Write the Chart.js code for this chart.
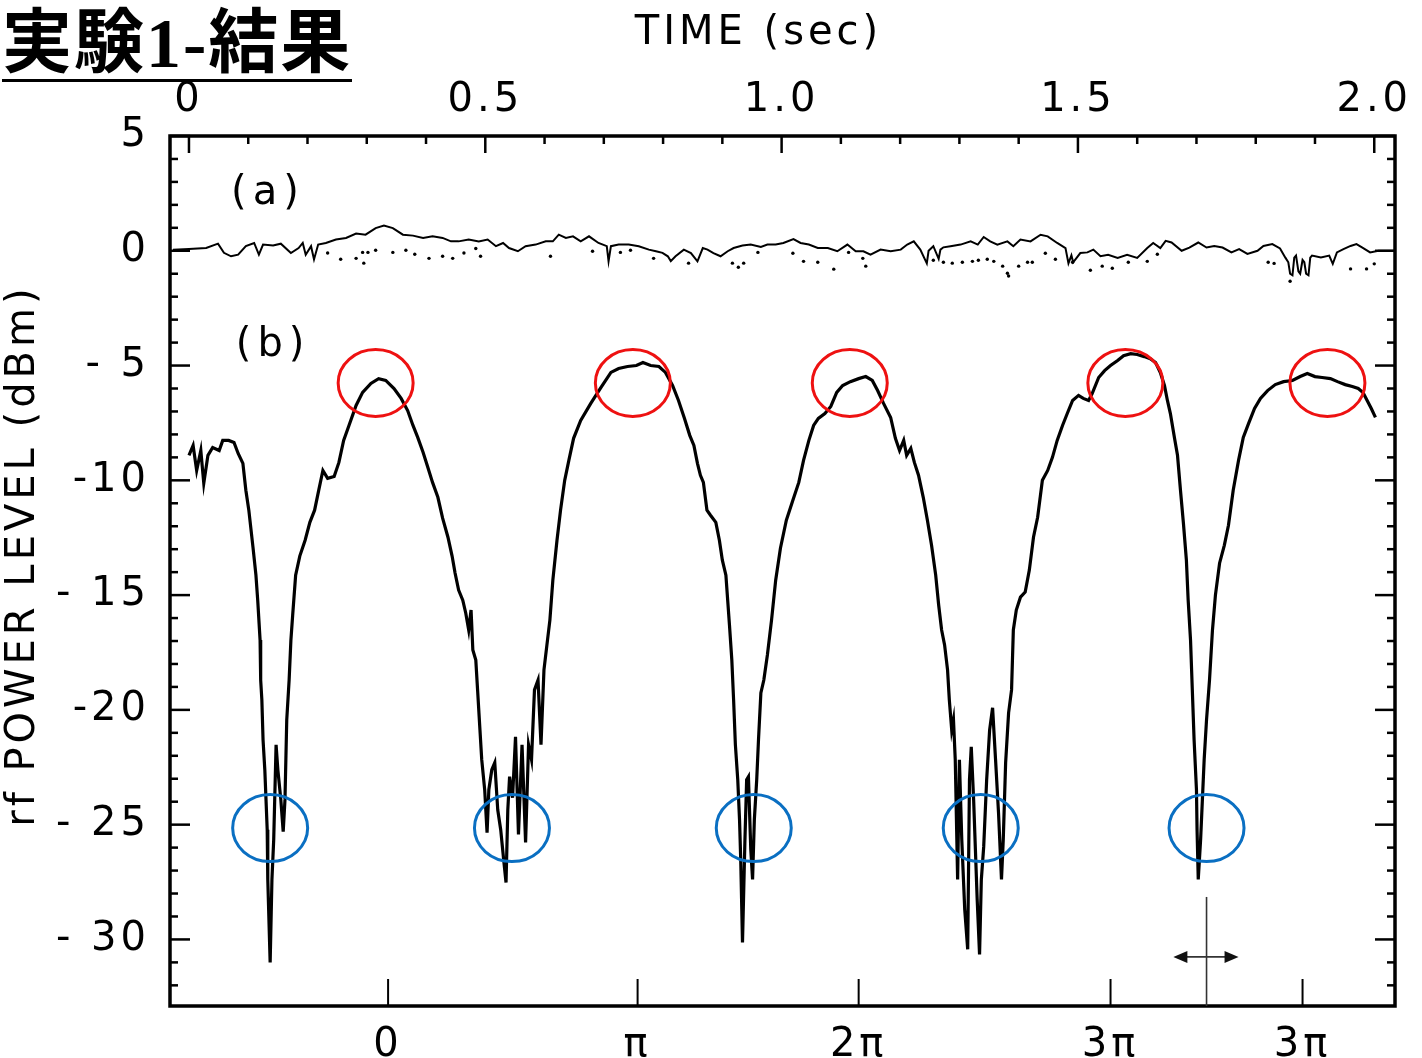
<!DOCTYPE html>
<html>
<head>
<meta charset="utf-8">
<script src="https://cdn.jsdelivr.net/npm/chart.js@4.4.1/dist/chart.umd.min.js"></script>
<style>
html,body{margin:0;padding:0;background:#fff;}
#wrap{position:relative;width:1422px;height:1058px;overflow:hidden;}
#title{position:absolute;left:2px;top:9px;font-family:"Liberation Serif","Noto Sans CJK JP",serif;font-weight:bold;font-size:70px;line-height:70px;letter-spacing:2px;border-bottom:3px solid #000;white-space:nowrap;color:#000;}
canvas{position:absolute;left:0;top:0;}
</style>
</head>
<body>
<div id="wrap">
<canvas id="c" width="1422" height="1058"></canvas>
<div id="title">実験1-結果</div>
</div>
<script>
// ---- curve (b): time (sec) / rf power (dBm)
const tB = [0.000,0.007,0.013,0.020,0.025,0.032,0.040,0.051,0.057,0.067,0.076,0.083,0.091,0.096,0.101,0.108,0.113,0.116,0.120,0.121,0.123,0.125,0.128,0.130,0.132,0.133,0.137,0.140,0.143,0.147,0.150,0.155,0.159,0.162,0.165,0.169,0.172,0.175,0.180,0.187,0.196,0.204,0.212,0.219,0.226,0.234,0.245,0.253,0.261,0.270,0.282,0.293,0.307,0.320,0.332,0.346,0.358,0.369,0.378,0.386,0.395,0.403,0.411,0.420,0.428,0.437,0.444,0.449,0.455,0.462,0.467,0.472,0.476,0.479,0.484,0.487,0.491,0.494,0.499,0.503,0.506,0.511,0.516,0.521,0.526,0.531,0.535,0.538,0.541,0.546,0.551,0.556,0.562,0.568,0.573,0.578,0.583,0.589,0.594,0.599,0.604,0.609,0.614,0.621,0.627,0.634,0.641,0.649,0.661,0.678,0.695,0.712,0.725,0.740,0.755,0.766,0.779,0.793,0.804,0.816,0.826,0.836,0.845,0.852,0.858,0.863,0.868,0.874,0.880,0.889,0.895,0.900,0.906,0.909,0.912,0.916,0.919,0.922,0.926,0.929,0.931,0.934,0.938,0.941,0.944,0.948,0.951,0.954,0.958,0.961,0.965,0.970,0.976,0.983,0.990,0.998,1.008,1.019,1.029,1.037,1.046,1.054,1.062,1.073,1.083,1.093,1.103,1.116,1.130,1.142,1.153,1.162,1.172,1.184,1.192,1.199,1.206,1.211,1.218,1.224,1.231,1.239,1.246,1.253,1.260,1.265,1.270,1.275,1.280,1.283,1.287,1.290,1.293,1.297,1.300,1.304,1.309,1.314,1.317,1.320,1.324,1.327,1.330,1.334,1.337,1.341,1.346,1.351,1.356,1.361,1.366,1.371,1.374,1.378,1.383,1.388,1.391,1.396,1.403,1.411,1.418,1.425,1.432,1.440,1.449,1.457,1.465,1.474,1.482,1.491,1.501,1.509,1.518,1.524,1.535,1.545,1.555,1.567,1.577,1.589,1.600,1.612,1.622,1.631,1.639,1.646,1.651,1.656,1.663,1.668,1.673,1.678,1.683,1.686,1.690,1.693,1.696,1.700,1.701,1.703,1.707,1.710,1.713,1.717,1.722,1.727,1.732,1.739,1.747,1.754,1.762,1.771,1.779,1.788,1.798,1.808,1.820,1.833,1.847,1.862,1.875,1.887,1.900,1.912,1.926,1.938,1.951,1.963,1.973,1.981,1.988,1.995,2.002];
const dbB = [-8.91,-8.48,-9.57,-8.70,-10.13,-8.91,-8.57,-8.70,-8.26,-8.26,-8.35,-8.83,-9.26,-10.43,-11.30,-12.91,-14.13,-15.22,-16.96,-18.70,-19.57,-21.30,-22.61,-23.91,-25.22,-27.39,-31.00,-27.39,-25.65,-21.52,-22.61,-23.91,-25.30,-23.91,-20.43,-18.70,-16.96,-15.87,-14.13,-13.30,-12.61,-11.83,-11.30,-10.43,-9.57,-9.91,-9.83,-9.22,-8.26,-7.61,-6.74,-6.17,-5.78,-5.57,-5.65,-6.00,-6.43,-6.96,-7.61,-8.13,-8.78,-9.43,-10.09,-10.74,-11.65,-12.48,-13.30,-14.04,-14.78,-15.22,-15.78,-16.52,-15.65,-17.39,-17.83,-19.13,-20.87,-22.17,-23.48,-25.35,-23.48,-22.61,-22.30,-24.35,-25.22,-26.52,-27.52,-24.35,-22.91,-23.83,-21.17,-25.43,-21.52,-25.78,-21.52,-22.17,-19.13,-18.70,-21.52,-18.26,-17.17,-16.09,-14.35,-12.61,-11.30,-10.00,-9.13,-8.17,-7.39,-6.65,-5.96,-5.30,-5.13,-5.04,-5.00,-4.87,-5.00,-5.04,-5.30,-5.87,-6.52,-7.30,-8.04,-8.48,-9.26,-9.78,-10.09,-11.30,-11.52,-11.83,-12.61,-13.48,-14.13,-15.22,-16.30,-17.83,-19.57,-21.52,-23.04,-24.78,-26.52,-30.13,-25.78,-23.04,-22.91,-26.09,-27.39,-24.78,-23.04,-21.30,-19.26,-18.70,-17.61,-16.09,-14.35,-12.96,-11.74,-10.87,-10.09,-9.13,-8.26,-7.61,-7.30,-7.09,-6.78,-6.17,-5.87,-5.70,-5.57,-5.48,-5.65,-6.09,-6.65,-7.26,-8.17,-8.70,-8.26,-8.91,-8.61,-9.22,-9.78,-10.74,-11.74,-12.83,-14.13,-15.43,-16.52,-17.17,-18.26,-19.57,-20.87,-20.43,-22.17,-27.39,-22.17,-25.65,-28.70,-30.43,-23.04,-21.61,-23.91,-26.09,-28.26,-30.65,-27.39,-25.96,-23.04,-20.87,-19.91,-22.17,-24.48,-27.39,-25.65,-22.30,-20.13,-19.13,-16.52,-15.65,-15.09,-14.87,-13.91,-12.48,-11.61,-10.00,-9.57,-9.00,-8.26,-7.61,-7.09,-6.52,-6.30,-6.43,-6.52,-6.22,-5.52,-5.22,-5.00,-4.78,-4.57,-4.48,-4.52,-4.61,-4.70,-4.87,-5.30,-5.87,-6.52,-7.09,-8.17,-8.91,-10.43,-11.87,-13.48,-15.22,-16.96,-19.13,-21.30,-23.48,-25.22,-27.39,-25.65,-23.91,-22.17,-20.43,-18.70,-16.52,-15.00,-13.61,-12.83,-11.96,-10.43,-9.13,-8.13,-7.52,-6.87,-6.43,-6.09,-5.83,-5.70,-5.65,-5.48,-5.35,-5.48,-5.52,-5.57,-5.70,-5.83,-5.91,-6.00,-6.17,-6.52,-6.87,-7.26];

// ---- curve (a), solid trace
const tA = [-0.027,0.000,0.029,0.049,0.059,0.071,0.083,0.096,0.110,0.118,0.125,0.142,0.155,0.172,0.185,0.192,0.197,0.206,0.211,0.218,0.231,0.248,0.265,0.282,0.298,0.315,0.329,0.344,0.361,0.378,0.395,0.411,0.428,0.442,0.455,0.472,0.489,0.504,0.518,0.530,0.540,0.555,0.568,0.585,0.602,0.614,0.624,0.636,0.648,0.661,0.675,0.691,0.705,0.708,0.712,0.725,0.742,0.759,0.776,0.788,0.799,0.808,0.813,0.821,0.835,0.847,0.858,0.867,0.875,0.885,0.897,0.909,0.919,0.934,0.948,0.965,0.976,0.990,1.003,1.020,1.032,1.046,1.061,1.078,1.094,1.111,1.125,1.138,1.150,1.167,1.184,1.201,1.212,1.223,1.234,1.245,1.248,1.256,1.265,1.268,1.273,1.285,1.302,1.319,1.331,1.341,1.352,1.364,1.381,1.391,1.403,1.420,1.437,1.449,1.465,1.479,1.484,1.489,1.492,1.504,1.516,1.526,1.538,1.551,1.567,1.583,1.600,1.617,1.627,1.639,1.648,1.658,1.675,1.688,1.703,1.717,1.730,1.744,1.759,1.772,1.786,1.803,1.813,1.828,1.841,1.850,1.855,1.858,1.862,1.865,1.868,1.872,1.875,1.879,1.882,1.885,1.889,1.892,1.895,1.910,1.924,1.930,1.937,1.948,1.960,1.970,1.980,1.993,2.007,2.035];
const dbA = [0.05,0.08,0.12,0.31,-0.09,-0.24,-0.17,0.20,0.34,-0.17,0.27,0.23,0.31,-0.10,0.12,0.34,-0.17,0.20,-0.38,0.27,0.34,0.49,0.56,0.75,0.70,0.99,1.10,0.99,0.70,0.66,0.56,0.63,0.56,0.41,0.41,0.49,0.41,0.49,0.20,0.34,0.12,-0.02,0.20,0.27,0.41,0.41,0.70,0.56,0.63,0.41,0.63,0.34,0.20,-0.46,0.20,0.27,0.27,0.20,0.05,-0.02,-0.09,-0.24,-0.45,-0.24,0.05,-0.10,-0.46,0.12,0.05,-0.10,-0.24,-0.02,0.12,0.23,0.27,0.17,0.27,0.27,0.34,0.51,0.34,0.27,0.12,0.12,-0.02,0.27,-0.02,-0.02,-0.17,0.05,-0.02,0.05,0.27,0.41,0.05,-0.55,0.00,0.20,-0.35,0.05,0.15,0.20,0.27,0.41,0.27,0.60,0.41,0.27,0.41,0.20,0.49,0.41,0.70,0.63,0.34,0.12,-0.55,-0.20,-0.50,-0.10,-0.07,0.05,-0.24,-0.17,-0.31,-0.17,-0.31,0.12,0.34,0.12,0.43,0.36,0.00,0.14,0.36,0.14,0.21,0.14,-0.07,0.07,-0.14,0.00,0.21,0.29,0.10,-0.30,-0.50,-1.00,-1.07,-0.30,-0.21,-0.90,-1.00,-0.40,-0.50,-1.00,-1.07,-0.30,-0.21,-0.29,-0.21,-0.57,-0.07,0.07,0.21,0.29,0.14,-0.07,0.00,0.00];

// ---- curve (a), dotted trace
const tDot = [0.234,0.256,0.282,0.293,0.295,0.302,0.315,0.344,0.366,0.381,0.405,0.428,0.445,0.464,0.484,0.492,0.610,0.681,0.728,0.745,0.784,0.843,0.917,0.927,0.936,0.960,1.019,1.037,1.061,1.088,1.113,1.137,1.142,1.256,1.273,1.288,1.305,1.322,1.332,1.347,1.358,1.373,1.381,1.383,1.400,1.415,1.423,1.445,1.462,1.491,1.521,1.541,1.558,1.585,1.617,1.634,1.821,1.831,1.858,1.960,1.987,2.000];
const dbDot = [-0.10,-0.37,-0.33,-0.07,-0.54,-0.07,0.02,-0.07,0.02,-0.15,-0.33,-0.24,-0.33,-0.10,0.10,-0.24,-0.24,-0.02,-0.07,0.02,-0.33,-0.54,-0.54,-0.72,-0.54,-0.07,-0.11,-0.46,-0.50,-0.80,-0.07,-0.33,-0.67,-0.41,-0.50,-0.54,-0.50,-0.46,-0.41,-0.37,-0.46,-0.67,-0.98,-1.10,-0.67,-0.50,-0.50,-0.11,-0.37,-0.50,-0.85,-0.67,-0.76,-0.50,-0.46,-0.15,-0.50,-0.55,-1.33,-0.79,-0.79,-0.57];

// ---- axes
const xMin = -0.032, xMax = 2.035;
const yMin = -32.9, yMax = 5;
const yTickValues = [5,0,-5,-10,-15,-20,-25,-30];
const yTickLabels = ['5','0','- 5','-10','- 15','-20','- 25','- 30'];
const topTickValues = [0,0.5,1.0,1.5,2.0];
const topTickLabels = ['0','0.5','1.0','1.5','2.0'];
const bottomTickValues = [0.336,0.757,1.130,1.555,1.879];
const bottomTickLabels = ['0','π','2π','3π','3π'];

// ---- annotations (data coordinates)
const peakCircleT = [0.315,0.749,1.115,1.580,1.921];
const peakCircleDb = [-5.76,-5.76,-5.76,-5.76,-5.76];
const troughCircleT = [0.137,0.545,0.953,1.336,1.717];
const troughCircleDb = [-25.15,-25.15,-25.15,-25.15,-25.15];
const markerT = 1.717, markerTopDb = -28.15;
const arrowT = [1.661,1.771], arrowDb = -30.76;
const panelLabels = ['(a)','(b)'];
const panelLabelT = [0.071,0.079];
const panelLabelDb = [2.48,-4.15];
const xTitle = 'TIME (sec)', xTitleT = 0.961;
const yTitle = 'rf POWER LEVEL (dBm)', yTitleDb = -13.28;

const FONT = '"DejaVu Sans", sans-serif';
Chart.defaults.color = '#000';
Chart.defaults.font.family = FONT;

function seg(ctx,x1,y1,x2,y2){ctx.beginPath();ctx.moveTo(x1,y1);ctx.lineTo(x2,y2);ctx.stroke();}

const decor = {
  id:'decor',
  beforeDraw(c){ c.ctx.letterSpacing = '4px'; },
  afterDraw(c){
    const ctx=c.ctx, ca=c.chartArea, x=c.scales.x, y=c.scales.y;
    ctx.save();
    ctx.letterSpacing='0px';
    ctx.strokeStyle='#000'; ctx.lineCap='butt';
    // y ticks (left and right, inward)
    ctx.lineWidth=2.5;
    for(let v=Math.ceil(yMin); v<=Math.floor(yMax); v++){
      const py=y.getPixelForValue(v); const L=(v%5===0)?20:8;
      seg(ctx,ca.left,py,ca.left+L,py); seg(ctx,ca.right,py,ca.right-L,py);
    }
    // top ticks every 0.1 s
    for(let i=0;i<=20;i++){
      const px=x.getPixelForValue(i/10); const L=(i%5===0)?17:8;
      seg(ctx,px,ca.top,px,ca.top+L);
    }
    // bottom ticks
    ctx.lineWidth=2;
    bottomTickValues.forEach(v=>{const px=x.getPixelForValue(v); seg(ctx,px,ca.bottom,px,ca.bottom-27);});
    // frame
    ctx.lineWidth=3.5;
    ctx.strokeRect(ca.left,ca.top,ca.right-ca.left,ca.bottom-ca.top);
    // marker + arrow
    ctx.lineWidth=1.6; ctx.strokeStyle='#333'; ctx.fillStyle='#111';
    const mx=x.getPixelForValue(markerT);
    seg(ctx,mx,y.getPixelForValue(markerTopDb),mx,ca.bottom);
    const ay=y.getPixelForValue(arrowDb), a1=x.getPixelForValue(arrowT[0]), a2=x.getPixelForValue(arrowT[1]);
    seg(ctx,a1+10,ay,a2-10,ay);
    ctx.beginPath(); ctx.moveTo(a1,ay); ctx.lineTo(a1+14,ay-6); ctx.lineTo(a1+14,ay+6); ctx.closePath(); ctx.fill();
    ctx.beginPath(); ctx.moveTo(a2,ay); ctx.lineTo(a2-14,ay-6); ctx.lineTo(a2-14,ay+6); ctx.closePath(); ctx.fill();
    // circles
    ctx.lineWidth=3;
    ctx.strokeStyle='#ee1111';
    peakCircleT.forEach((t,i)=>{ctx.beginPath();ctx.ellipse(x.getPixelForValue(t),y.getPixelForValue(peakCircleDb[i]),37.5,33.5,0,0,Math.PI*2);ctx.stroke();});
    ctx.strokeStyle='#0a6fc2';
    troughCircleT.forEach((t,i)=>{ctx.beginPath();ctx.ellipse(x.getPixelForValue(t),y.getPixelForValue(troughCircleDb[i]),37.5,33.5,0,0,Math.PI*2);ctx.stroke();});
    // texts
    ctx.fillStyle='#000';
    ctx.font='40px '+FONT;
    ctx.letterSpacing='4px';
    ctx.textBaseline='middle'; ctx.textAlign='center';
    ctx.fillText(xTitle, x.getPixelForValue(xTitleT), 34);
    ctx.save();
    ctx.translate(24, y.getPixelForValue(yTitleDb)); ctx.rotate(-Math.PI/2);
    ctx.fillText(yTitle,0,0);
    ctx.restore();
    ctx.textAlign='left'; ctx.letterSpacing='6px';
    panelLabels.forEach((s,i)=>ctx.fillText(s, x.getPixelForValue(panelLabelT[i]), y.getPixelForValue(panelLabelDb[i])));
    ctx.restore();
  }
};

const pts=(xs,ys)=>xs.map((v,i)=>({x:v,y:ys[i]}));

new Chart(document.getElementById('c'),{
  type:'scatter',
  data:{datasets:[
    {label:'(b)',data:pts(tB,dbB),showLine:true,borderColor:'#000',borderWidth:3.2,pointRadius:0,tension:0},
    {label:'(a)',data:pts(tA,dbA),showLine:true,borderColor:'#000',borderWidth:2,pointRadius:0,tension:0},
    {label:'(a) dotted',data:pts(tDot,dbDot),showLine:false,pointRadius:1.7,pointBackgroundColor:'#000',pointBorderWidth:0}
  ]},
  options:{
    responsive:false, devicePixelRatio:1, animation:false,
    layout:{padding:{left:0,top:0,right:27,bottom:0}},
    plugins:{legend:{display:false},tooltip:{enabled:false}},
    scales:{
      x:{type:'linear',position:'bottom',min:xMin,max:xMax,
         grid:{display:false},border:{display:false},
         afterBuildTicks:s=>{s.ticks=bottomTickValues.map(v=>({value:v}));},
         afterFit:s=>{s.height=52;},
         ticks:{autoSkip:false,maxRotation:0,padding:8,font:{size:40},callback:(v,i)=>bottomTickLabels[i]}},
      xTop:{type:'linear',axis:'x',position:'top',min:xMin,max:xMax,
         grid:{display:false},border:{display:false},
         afterBuildTicks:s=>{s.ticks=topTickValues.map(v=>({value:v}));},
         afterFit:s=>{s.height=136;},
         ticks:{autoSkip:false,maxRotation:0,padding:3,font:{size:40},callback:(v,i)=>topTickLabels[i]}},
      y:{type:'linear',position:'left',min:yMin,max:yMax,
         grid:{display:false},border:{display:false},
         afterBuildTicks:s=>{s.ticks=yTickValues.map(v=>({value:v}));},
         afterFit:s=>{s.width=170;},
         ticks:{autoSkip:false,padding:12,font:{size:40},callback:(v,i)=>yTickLabels[i]}}
    }
  },
  plugins:[decor]
});
</script>
</body>
</html>
